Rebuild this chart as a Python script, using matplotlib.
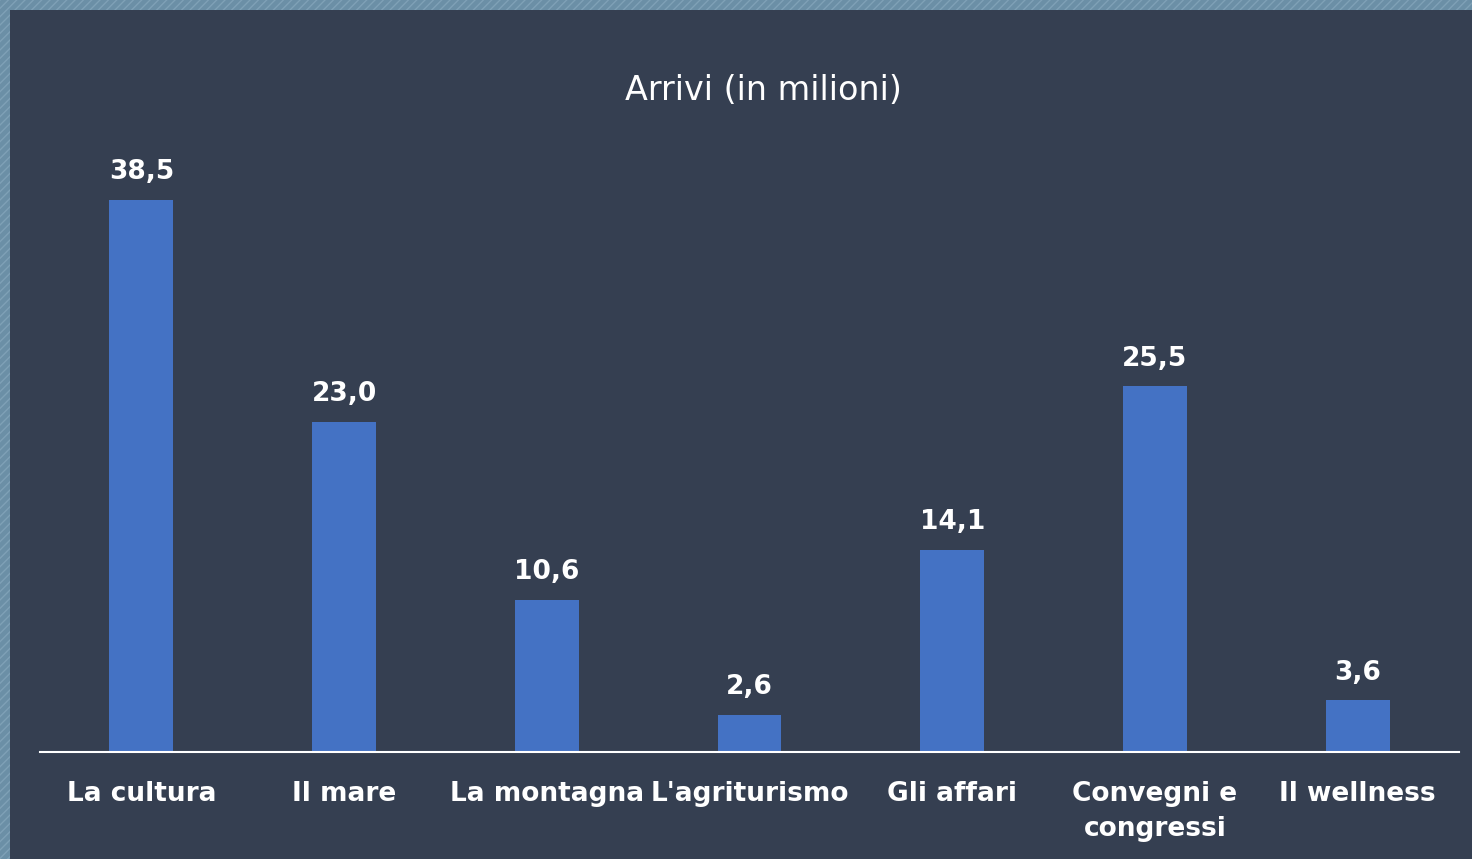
import matplotlib.pyplot as plt
from matplotlib.patches import Rectangle

categorie = ["La cultura", "Il mare", "La montagna", "L'agriturismo",
             "Gli affari", "Convegni e\ncongressi", "Il wellness"]
arrivi = [38.5, 23.0, 10.6, 2.6, 14.1, 25.5, 3.6]

W, H = 1472, 859
fig = plt.figure(figsize=(W / 100, H / 100), dpi=100)
fig.patch.set_facecolor("#6b8fa6")

# striped frame + dark panel
fig.patches.append(Rectangle((0, 0), 1, 1, transform=fig.transFigure,
                             facecolor="none", edgecolor="#7fa1b6",
                             hatch="////", linewidth=0, zorder=0))
fig.patches.append(Rectangle((10 / W, 0), 1, 1 - 10 / H, transform=fig.transFigure,
                             facecolor="#353f51", edgecolor="none", zorder=1))

ax = fig.add_axes([40 / W, (H - 752) / H, 1419 / W, 622 / H])
ax.set_facecolor("none")
ax.set_zorder(2)

x = range(len(categorie))
ax.bar(x, arrivi, width=0.315, color="#4472c4")
for xi, v in zip(x, arrivi):
    ax.text(xi, v + 1.45, f"{v:.1f}".replace(".", ","), ha="center", va="baseline",
            color="white", fontsize=19, fontweight="bold", family="DejaVu Sans")

ax.set_xlim(-0.5, len(categorie) - 0.5)
ax.set_ylim(0, 622 / 14.34)
ax.set_xticks(list(x))
ax.set_xticklabels(categorie, color="white", fontsize=19, fontweight="bold",
                   family="DejaVu Sans", linespacing=1.45)
ax.tick_params(axis="x", length=0, pad=21)
ax.set_yticks([])
for s in ["top", "right", "left"]:
    ax.spines[s].set_visible(False)
ax.spines["bottom"].set_color("white")
ax.spines["bottom"].set_linewidth(1.5)

fig.text(763 / W, 1 - 90 / H, "Arrivi (in milioni)", ha="center", va="center",
         color="white", fontsize=24, family="DejaVu Sans", zorder=3)

fig.savefig("out.png", dpi=100, facecolor=fig.get_facecolor())
